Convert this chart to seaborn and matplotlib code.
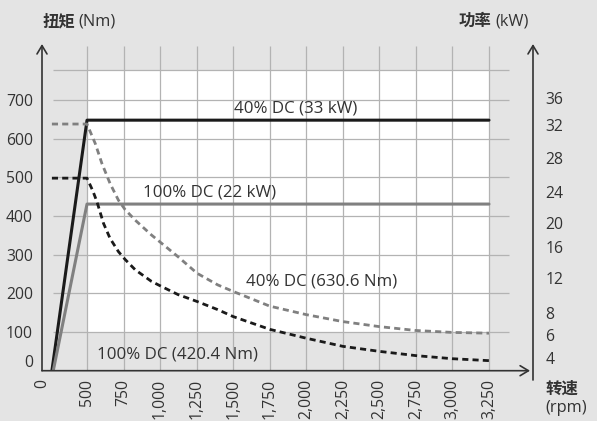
import numpy as np
import matplotlib
matplotlib.use('Agg')
import matplotlib.pyplot as plt
import seaborn as sns

# data
rpm_ticks = [0, 500, 750, 1000, 1250, 1500, 1750, 2000, 2250, 2500, 2750, 3000, 3250]
torque_ticks = [0, 100, 200, 300, 400, 500, 600, 700]
power_labels = [36, 32, 28, 24, 20, 16, 12, 8, 6, 4]
power_at_nm = [706, 635, 549, 463, 381, 321, 241, 148, 92, 34]

# 40% DC power (solid black) and 100% DC power (solid gray)
p40_rpm = [110, 500, 3250]
p40_nm = [0, 648, 648]
p100_rpm = [125, 500, 3250]
p100_nm = [0, 431, 431]

# torque curves (dashed)
t40_rpm = [110, 500, 557, 602, 658, 715, 760, 828, 941, 1009, 1122, 1253, 1394, 1500,
           1750, 2000, 2250, 2500, 2750, 3000, 3250]
t40_nm = [638, 638, 587, 536, 484, 441, 417, 390, 351, 330, 295, 252, 222, 205,
          167, 145, 127, 114, 104, 99, 97]
t100_rpm = [110, 500, 540, 568, 613, 658, 715, 760, 830, 941, 1009, 1122, 1253, 1394, 1500,
            1750, 2000, 2250, 2500, 2750, 3000, 3250]
t100_nm = [498, 498, 465, 437, 381, 342, 308, 288, 261, 231, 218, 197, 179, 158, 140,
           107, 84, 63, 50, 39, 31, 26]

bg = '#e4e4e4'
grid_c = '#b3b3b3'
txt_c = '#333333'
black = '#1a1a1a'
gray = '#808080'

sns.set_theme(style='white')
plt.rcParams['font.family'] = ['Open Sans', 'Noto Sans CJK SC', 'DejaVu Sans']

fig = plt.figure(figsize=(5.97, 4.21), dpi=100)
fig.patch.set_facecolor(bg)
W, H = 597, 421
ax = fig.add_axes([42 / W, (H - 370.7) / H, (533 - 42) / W, (370.7 - 44) / H])
ax.patch.set_alpha(0)

# 0..500 rpm is squeezed on the axis
k = 0.6157
def fwd(x):
    x = np.asarray(x, dtype=float)
    return np.where(x < 500, 500 - (500 - x) * k, x)
def inv(y):
    y = np.asarray(y, dtype=float)
    return np.where(y < 500, 500 - (500 - y) / k, y)
ax.set_xscale('function', functions=(fwd, inv))
ax.set_xlim(0, 3551)
ax.set_ylim(0, 845)

# white plot field and grid
ax.fill_between([500, 3250], 100, 778, color='white', lw=0, zorder=0)
ax.vlines(rpm_ticks[1:], 0, 839, colors=grid_c, lw=0.9, zorder=1)
ax.hlines(torque_ticks[1:] + [778], 122, 3387, colors=grid_c, lw=0.9, zorder=1)

sns.lineplot(x=p40_rpm, y=p40_nm, ax=ax, color=black, lw=2.2, estimator=None, sort=False, zorder=3)
sns.lineplot(x=p100_rpm, y=p100_nm, ax=ax, color=gray, lw=2.2, estimator=None, sort=False, zorder=3)
sns.lineplot(x=t40_rpm, y=t40_nm, ax=ax, color=gray, lw=2.0, estimator=None, sort=False, zorder=3,
             dashes=False, linestyle=(0, (2.2, 1.5)))
sns.lineplot(x=t100_rpm, y=t100_nm, ax=ax, color=black, lw=2.0, estimator=None, sort=False, zorder=3,
             dashes=False, linestyle=(0, (2.2, 1.5)))

fs = 12.2
ax.text(1930, 677, '40% DC (33 kW)', ha='center', va='center', fontsize=fs, color=txt_c)
ax.text(1335, 462, '100% DC (22 kW)', ha='center', va='center', fontsize=fs, color=txt_c)
ax.text(2108, 232, '40% DC (630.6 Nm)', ha='center', va='center', fontsize=fs, color=txt_c)
ax.text(1116, 43, '100% DC (420.4 Nm)', ha='center', va='center', fontsize=fs, color=txt_c)

for s in ax.spines.values():
    s.set_visible(False)

tfs = 11.3
ax.set_xticks(rpm_ticks)
ax.set_xticklabels([f'{v:,}' for v in rpm_ticks], rotation=90, fontsize=tfs, color=txt_c)
ax.set_yticks(torque_ticks)
ax.set_yticklabels([str(v) for v in torque_ticks], fontsize=tfs, color=txt_c)
ax.get_yticklabels()[0].set_va('bottom')
ax.tick_params(axis='x', length=0, pad=6)
ax.tick_params(axis='y', length=0, pad=6.5)

ax2 = ax.twinx()
ax2.set_ylim(ax.get_ylim())
ax2.set_yticks(power_at_nm)
ax2.set_yticklabels([str(v) for v in power_labels], fontsize=tfs, color=txt_c)
ax2.tick_params(axis='y', length=0, pad=9)
for s in ax2.spines.values():
    s.set_visible(False)

arrow = dict(arrowstyle='->,head_length=0.5,head_width=0.3', color=txt_c, lw=1.2,
             shrinkA=0, shrinkB=0, mutation_scale=12)
ax.annotate('', xy=(0, 1), xytext=(0, 0), xycoords='axes fraction', arrowprops=arrow)
ax.annotate('', xy=(0.994, 0), xytext=(0, 0), xycoords='axes fraction', arrowprops=arrow)
ax.annotate('', xy=(1, 1), xytext=(1, -0.0285), xycoords='axes fraction', arrowprops=arrow)

cjk = ['Noto Sans CJK SC', 'DejaVu Sans']
ty = 1 - 21 / H
hfs = 11.8
fig.text(43 / W, ty, '扭矩', family=cjk, fontweight='bold', fontsize=hfs, va='center', color=txt_c)
fig.text(78 / W, ty, '(Nm)', fontsize=hfs, va='center', color=txt_c)
fig.text(459 / W, ty, '功率', family=cjk, fontweight='bold', fontsize=hfs, va='center', color=txt_c)
fig.text(495 / W, ty, '(kW)', fontsize=hfs, va='center', color=txt_c)
fig.text(545 / W, 1 - 389 / H, '转速', family=cjk, fontweight='bold', fontsize=hfs, va='center', color=txt_c)
fig.text(545 / W, 1 - 408 / H, '(rpm)', fontsize=hfs, va='center', color=txt_c)

fig.savefig('out.png', dpi=100, facecolor=bg)
